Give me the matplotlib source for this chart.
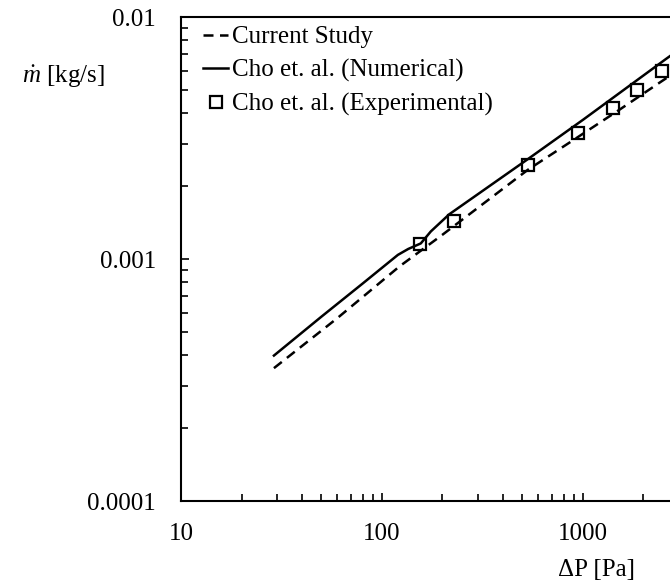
import matplotlib
matplotlib.use("Agg")
import matplotlib.pyplot as plt
from matplotlib.ticker import FixedLocator, FixedFormatter, LogLocator, NullFormatter

plt.rcParams['font.family'] = ['Liberation Serif', 'DejaVu Serif']
plt.rcParams['mathtext.fontset'] = 'custom'
plt.rcParams['mathtext.rm'] = 'Liberation Serif'
plt.rcParams['mathtext.it'] = 'Liberation Serif:italic'

# Data
study_dp = [29, 60, 122, 200, 533, 853, 1500, 2466, 2800]
study_m = [0.000354, 0.000570, 0.000931, 0.00126, 0.00234, 0.00302, 0.00411, 0.00543, 0.00582]

num_dp = [29, 50, 80, 120, 135, 156, 175, 216, 533, 1000, 2570, 2800]
num_m = [0.000399, 0.000578, 0.000791, 0.00104, 0.00110, 0.00116, 0.00130, 0.00153, 0.00259, 0.00376, 0.00668, 0.00703]

exp_dp = [155, 229, 533, 944, 1413, 1850, 2477]
exp_m = [0.00115, 0.00143, 0.00245, 0.00332, 0.00422, 0.00499, 0.00597]

x_ticks = [10, 100, 1000]
x_tick_labels = ['10', '100', '1000']
y_ticks = [0.0001, 0.001, 0.01]
y_tick_labels = ['0.0001', '0.001', '0.01']

W, H = 670, 588
fig = plt.figure(figsize=(W / 100, H / 100), dpi=100)
left, right, top, bottom = 181, 670, 17, 501
ax = fig.add_axes([left / W, 1 - bottom / H, (right - left) / W, (bottom - top) / H])
ax.set_xscale('log')
ax.set_yscale('log')
ax.set_xlim(10, 2710)
ax.set_ylim(0.0001, 0.01)

lw = 1.8
ax.plot(study_dp, study_m, color='black', lw=lw, dashes=(4, 2.6), label='Current Study')
ax.plot(num_dp, num_m, color='black', lw=lw, label='Cho et. al. (Numerical)')
ax.plot(exp_dp, exp_m, linestyle='none', marker='s', ms=9, mfc='none', mec='black', mew=1.6,
        label='Cho et. al. (Experimental)')

ax.xaxis.set_major_locator(FixedLocator(x_ticks))
ax.xaxis.set_major_formatter(FixedFormatter(x_tick_labels))
ax.xaxis.set_minor_locator(LogLocator(base=10, subs=range(2, 10)))
ax.xaxis.set_minor_formatter(NullFormatter())
ax.yaxis.set_major_locator(FixedLocator(y_ticks))
ax.yaxis.set_major_formatter(FixedFormatter(y_tick_labels))
ax.yaxis.set_minor_locator(LogLocator(base=10, subs=range(2, 10)))
ax.yaxis.set_minor_formatter(NullFormatter())

ax.tick_params(which='both', direction='in', width=1.2, labelsize=18, color='black')
ax.tick_params(which='major', length=6)
ax.tick_params(which='minor', length=5)
ax.tick_params(axis='x', which='both', pad=16)
ax.tick_params(axis='y', which='both', pad=18)
ax.tick_params(top=False, right=False)

for s in ['left', 'bottom', 'top']:
    ax.spines[s].set_linewidth(1.5)
ax.spines['right'].set_visible(False)

ax.legend(loc='upper left', bbox_to_anchor=((203 - left) / (right - left), 1 - (26 - top) / (bottom - top)),
          frameon=False, fontsize=18, handlelength=1.0, handletextpad=0.16, labelspacing=0.43,
          borderaxespad=0.0, borderpad=0.0)

fig.text(22 / W, 1 - 77 / H, r'$\dot{m}$ [kg/s]', fontsize=18, ha='left', va='center')
fig.text(597 / W, 1 - 570 / H, 'ΔP [Pa]', fontsize=18, ha='center', va='center')

fig.savefig('out.png', dpi=100)
